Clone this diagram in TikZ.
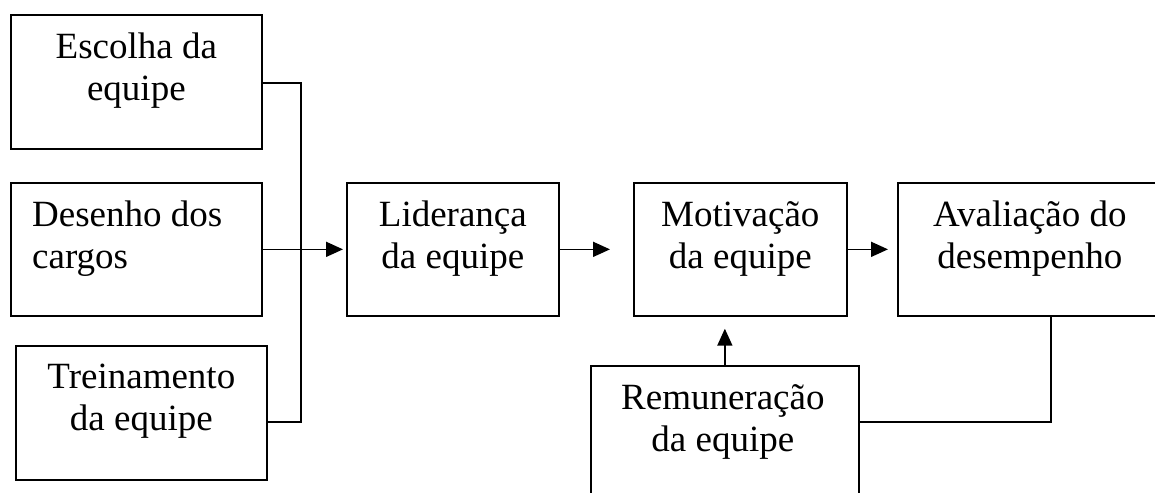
\documentclass[tikz,border=0pt]{standalone}
\usepackage{fontspec}
\setmainfont{Liberation Serif}
\usetikzlibrary{arrows.meta,calc}
\tikzset{
  box/.style={draw, line width=1.7pt, inner sep=0pt, anchor=north west},
  lbl/.style={inner sep=0pt, anchor=north, align=center, font=\fontsize{37}{42}\selectfont},
  conn/.style={line width=1.7pt},
  arr/.style={conn, -{Triangle[length=17pt,width=15pt]}}
}
\begin{document}
\begin{tikzpicture}[x=1pt,y=-1pt]
\useasboundingbox (0,0) rectangle (1155,492);
\fill[white] (0,0) rectangle (1155,492);
\clip (0,0) rectangle (1155,492);
% boxes
\node[box, minimum width=251pt, minimum height=134pt] (esc) at (10,14) {};
\node[box, minimum width=251pt, minimum height=133pt] (des) at (10,182) {};
\node[box, minimum width=251pt, minimum height=134pt] (tre) at (15,345) {};
\node[box, minimum width=212pt, minimum height=133pt] (lid) at (346,182) {};
\node[box, minimum width=213pt, minimum height=133pt] (mot) at (633,182) {};
\node[box, minimum width=268pt, minimum height=133pt] (ava) at (897,182) {};
\node[box, minimum width=268pt, minimum height=150pt] (rem) at (590,365) {};
% labels
\node[lbl] (esct) at ($(esc.north)+(0,19)$) {Escolha da\\equipe};
\node[lbl, anchor=north west, align=left] (dest) at ($(des.north west)+(22,19)$) {Desenho dos\\cargos};
\node[lbl] (tret) at ($(tre.north)+(0,19)$) {Treinamento\\da equipe};
\node[lbl] (lidt) at ($(lid.north)+(0,19)$) {Liderança\\da equipe};
\node[lbl] (mott) at ($(mot.north)+(0,19)$) {Motivação\\da equipe};
\node[lbl] (avat) at ($(ava.north)+(-2,19)$) {Avaliação do\\desempenho};
\node[lbl] (remt) at ($(rem.north)+(-2,19)$) {Remuneração\\da equipe};
% connectors
\coordinate (j1) at (301,83);
\coordinate (j2) at (301,422);
\coordinate (j3) at (1051,422);
\draw[conn] (esc.east |- j1) -- (j1) -- (j2) -- (tre.east |- j2);
\draw[arr, shorten >=3pt] (des.east) -- (lid.west);
\draw[arr, shorten >=23pt] (lid.east) -- (mot.west);
\draw[arr, shorten >=9pt] (mot.east) -- (ava.west);
\draw[arr, shorten >=12pt] (rem.north) -- (rem.north |- mot.south);
\draw[conn] (ava.south -| j3) -- (j3) -- (rem.east |- j3);
\end{tikzpicture}
\end{document}
